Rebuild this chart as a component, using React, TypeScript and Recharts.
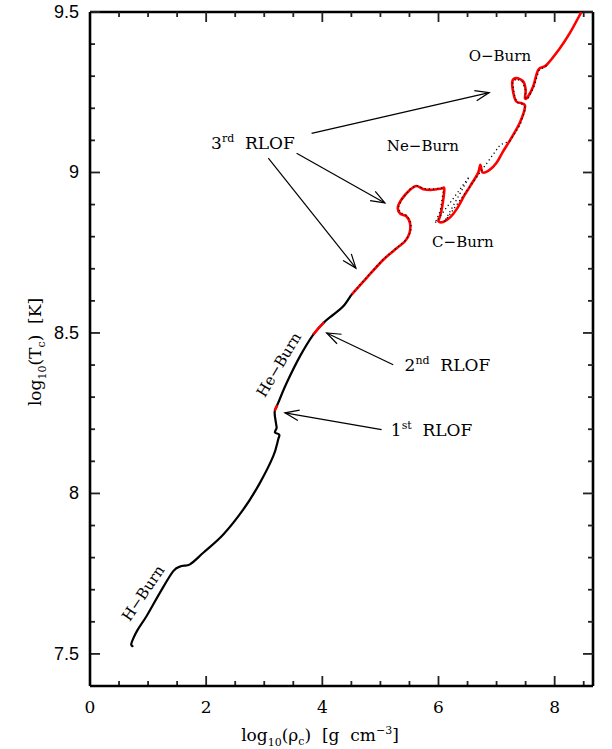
import React from 'react';
import { ComposedChart, Line, XAxis, YAxis, ReferenceLine, ReferenceDot } from 'recharts';

type Pt = { x: number; y: number };
const pts = (a: number[][]): Pt[] => a.map(([x, y]) => ({ x, y }));

// axis ticks
const xTicks = [0, 0.5, 1, 1.5, 2, 2.5, 3, 3.5, 4, 4.5, 5, 5.5, 6, 6.5, 7, 7.5, 8, 8.5];
const xTickLabels = [0, 2, 4, 6, 8];
const yTicks = [7.5, 7.6, 7.7, 7.8, 7.9, 8, 8.1, 8.2, 8.3, 8.4, 8.5, 8.6, 8.7, 8.8, 8.9, 9, 9.1, 9.2, 9.3, 9.4, 9.5];
const yTickLabels = [7.5, 8, 8.5, 9, 9.5];
const X_MAX = 8.66;
const Y_MIN = 7.4;
const Y_MAX = 9.5;

// black track: H-burn -> He-burn -> start of 3rd RLOF
const earlyTrack = pts([
  [0.74, 7.522], [0.71, 7.53], [0.75, 7.55], [0.82, 7.575], [0.975, 7.618], [1.205, 7.691],
  [1.434, 7.758], [1.578, 7.774], [1.721, 7.779], [1.95, 7.815], [2.295, 7.872], [2.64, 7.95],
  [2.926, 8.033], [3.155, 8.116], [3.24, 8.168], [3.258, 8.183], [3.184, 8.19], [3.213, 8.204],
  [3.201, 8.22], [3.18, 8.255], [3.24, 8.282], [3.385, 8.344], [3.614, 8.427], [3.844, 8.495],
  [4.03, 8.533], [4.19, 8.557], [4.36, 8.583], [4.5, 8.619],
]);

// red mass-transfer phases
const rlof1 = pts([[3.18, 8.258], [3.2, 8.266], [3.224, 8.274]]);
const rlof2 = pts([[3.844, 8.495], [3.94, 8.516], [4.03, 8.533]]);
const rlof3 = pts([
  [4.5, 8.619], [4.76, 8.671], [5.05, 8.728], [5.28, 8.764], [5.42, 8.785], [5.5, 8.81],
  [5.51, 8.842], [5.45, 8.863], [5.34, 8.872], [5.3, 8.89], [5.36, 8.915], [5.51, 8.946],
  [5.62, 8.958], [5.74, 8.948], [5.9, 8.946], [6.05, 8.95], [6.1, 8.948], [6.06, 8.89],
  [6.02, 8.86], [6.0, 8.848], [6.08, 8.846], [6.2, 8.86], [6.31, 8.885], [6.45, 8.93],
  [6.54, 8.956], [6.68, 8.998], [6.72, 9.024], [6.76, 9.0], [6.88, 9.008], [7.0, 9.03],
  [7.11, 9.065], [7.23, 9.1], [7.4, 9.155], [7.49, 9.205], [7.43, 9.216], [7.34, 9.221],
  [7.29, 9.247], [7.27, 9.283], [7.34, 9.294], [7.46, 9.283], [7.5, 9.257], [7.49, 9.231],
  [7.54, 9.236], [7.63, 9.268], [7.72, 9.32], [7.86, 9.335], [8.09, 9.387], [8.26, 9.434],
  [8.46, 9.5],
]);

// dotted black comparison track
const shadowTrack = pts([
  [4.5, 8.619], [4.76, 8.673], [5.05, 8.73], [5.3, 8.768], [5.44, 8.79], [5.52, 8.815],
  [5.53, 8.842], [5.46, 8.866], [5.34, 8.875], [5.31, 8.892], [5.37, 8.917], [5.51, 8.948],
  [5.62, 8.96], [5.74, 8.95], [5.9, 8.948], [6.05, 8.952], [6.08, 8.94], [6.03, 8.88],
  [5.94, 8.842], [6.53, 8.987], [6.1, 8.846], [7.06, 9.086], [7.23, 9.098], [7.41, 9.15],
  [7.5, 9.2], [7.44, 9.213], [7.35, 9.218], [7.3, 9.245], [7.28, 9.282], [7.34, 9.292],
  [7.45, 9.282], [7.5, 9.255], [7.5, 9.229], [7.55, 9.233], [7.64, 9.266], [7.73, 9.318],
  [7.86, 9.333],
]);

// annotations (data coordinates)
const arrows = [
  { from: [3.815, 9.122], to: [6.873, 9.249] },
  { from: [3.557, 9.06], to: [5.077, 8.905] },
  { from: [3.07, 9.045], to: [4.578, 8.702] },
  { from: [5.22, 8.401], to: [4.074, 8.5] },
  { from: [5.02, 8.199], to: [3.356, 8.251] },
];
const rlofLabels = [
  { num: '3', sup: 'rd', x: 2.806, y: 9.092 },
  { num: '2', sup: 'nd', x: 6.153, y: 8.401 },
  { num: '1', sup: 'st', x: 5.881, y: 8.199 },
];
const burnLabels = [
  { text: 'O\u2212Burn', x: 7.057, y: 9.363, angle: 0 },
  { text: 'Ne\u2212Burn', x: 5.731, y: 9.081, angle: 0 },
  { text: 'C\u2212Burn', x: 6.42, y: 8.783, angle: 0 },
  { text: 'He\u2212Burn', x: 3.253, y: 8.401, angle: -59 },
  { text: 'H\u2212Burn', x: 0.917, y: 7.689, angle: -56 },
];

const SERIF = '"DejaVu Serif", "Liberation Serif", serif';
const SANS = '"Liberation Sans", Arial, sans-serif';

const isMajorX = (v: number) => Math.abs(v / 2 - Math.round(v / 2)) < 1e-6;
const isMajorY = (v: number) => Math.abs(v * 2 - Math.round(v * 2)) < 1e-6;

// Catmull-Rom curve factory (d3 curve interface) for smooth tracks through the points
const smooth = (ctx: any) => {
  let p: number[][] = [];
  return {
    areaStart() {},
    areaEnd() {},
    lineStart() {
      p = [];
    },
    point(x: number, y: number) {
      p.push([+x, +y]);
    },
    lineEnd() {
      const n = p.length;
      if (!n) return;
      ctx.moveTo(p[0][0], p[0][1]);
      for (let i = 0; i < n - 1; i++) {
        const a = p[Math.max(i - 1, 0)];
        const b = p[i];
        const c = p[i + 1];
        const d = p[Math.min(i + 2, n - 1)];
        ctx.bezierCurveTo(
          b[0] + (c[0] - a[0]) / 6,
          b[1] + (c[1] - a[1]) / 6,
          c[0] - (d[0] - b[0]) / 6,
          c[1] - (d[1] - b[1]) / 6,
          c[0],
          c[1],
        );
      }
    },
  };
};

function XTickLabel(props: any) {
  const { x, y, payload } = props;
  const v = payload.value;
  if (!xTickLabels.includes(v)) return <g />;
  return (
    <text x={x} y={y + 27} textAnchor="middle" fontSize={17} fontFamily={SERIF} fill="#000">
      {v}
    </text>
  );
}

function YTickLabel(props: any) {
  const { x, y, payload } = props;
  const v = payload.value;
  if (!yTickLabels.includes(v)) return <g />;
  return (
    <text x={x - 11} y={y} textAnchor="end" dominantBaseline="central" fontSize={18} fontFamily={SANS} fill="#000">
      {v}
    </text>
  );
}

// inward ticks at both ends of a full-height / full-width segment
function tickPair(p: any, len: number) {
  const { x1, y1, x2, y2 } = p;
  const vertical = Math.abs(x1 - x2) < 0.5;
  if (vertical) {
    const top = Math.min(y1, y2);
    const bot = Math.max(y1, y2);
    return (
      <g stroke="#222" strokeWidth={1.8} fill="none">
        <line x1={x1} y1={top} x2={x1} y2={top + len} />
        <line x1={x1} y1={bot} x2={x1} y2={bot - len} />
      </g>
    );
  }
  const left = Math.min(x1, x2);
  const right = Math.max(x1, x2);
  return (
    <g stroke="#222" strokeWidth={1.8} fill="none">
      <line x1={left} y1={y1} x2={left + len} y2={y1} />
      <line x1={right} y1={y1} x2={right - len} y2={y1} />
    </g>
  );
}

function Arrow(props: any) {
  const { x1, y1, x2, y2 } = props;
  const ang = Math.atan2(y2 - y1, x2 - x1);
  const L = 15;
  const spread = 0.36;
  const ax = x2 - L * Math.cos(ang - spread);
  const ay = y2 - L * Math.sin(ang - spread);
  const bx = x2 - L * Math.cos(ang + spread);
  const by = y2 - L * Math.sin(ang + spread);
  return (
    <g stroke="#000" strokeWidth={1.2} fill="none">
      <line x1={x1} y1={y1} x2={x2} y2={y2} />
      <polyline points={`${ax},${ay} ${x2},${y2} ${bx},${by}`} />
    </g>
  );
}

const axisLine = { stroke: '#000', strokeWidth: 2.6 };

export default function App() {
  return (
    <div style={{ position: 'absolute', left: 0, top: 0, width: 612, height: 749, background: '#fff' }}>
      <ComposedChart width={612} height={749} margin={{ top: 12, right: 19, left: 0, bottom: 0 }}>
        <XAxis
          type="number"
          dataKey="x"
          domain={[0, X_MAX]}
          ticks={xTicks}
          height={63}
          axisLine={axisLine}
          tickLine={false}
          tickSize={0}
          tickMargin={0}
          tick={<XTickLabel />}
          interval={0}
          allowDataOverflow
        />
        <YAxis
          type="number"
          dataKey="y"
          domain={[Y_MIN, Y_MAX]}
          ticks={yTicks}
          width={90}
          axisLine={axisLine}
          tickLine={false}
          tickSize={0}
          tickMargin={0}
          tick={<YTickLabel />}
          interval={0}
          allowDataOverflow
        />

        <ReferenceLine y={Y_MAX} stroke="#000" strokeWidth={2.6} />
        <ReferenceLine x={X_MAX} stroke="#000" strokeWidth={2.6} />

        {xTicks.map((v) => (
          <ReferenceLine
            key={`xt-${v}`}
            segment={[{ x: v, y: Y_MIN }, { x: v, y: Y_MAX }]}
            shape={(p: any) => tickPair(p, isMajorX(v) ? 10 : 5)}
          />
        ))}
        {yTicks.map((v) => (
          <ReferenceLine
            key={`yt-${v}`}
            segment={[{ x: 0, y: v }, { x: X_MAX, y: v }]}
            shape={(p: any) => tickPair(p, isMajorY(v) ? 10 : 5)}
          />
        ))}

        <Line data={earlyTrack} dataKey="y" type={smooth as any} stroke="#000" strokeWidth={2.2} dot={false} activeDot={false} isAnimationActive={false} />
        <Line data={rlof1} dataKey="y" type="linear" stroke="#ff0000" strokeWidth={2.6} dot={false} activeDot={false} isAnimationActive={false} />
        <Line data={rlof2} dataKey="y" type={smooth as any} stroke="#ff0000" strokeWidth={2.6} dot={false} activeDot={false} isAnimationActive={false} />
        <Line data={rlof3} dataKey="y" type={smooth as any} stroke="#ff0000" strokeWidth={2.6} dot={false} activeDot={false} isAnimationActive={false} />
        <Line data={shadowTrack} dataKey="y" type="linear" stroke="#000" strokeWidth={1.3} strokeDasharray="1.2 3" dot={false} activeDot={false} isAnimationActive={false} />

        {arrows.map((a, i) => (
          <ReferenceLine
            key={`arrow-${i}`}
            segment={[{ x: a.from[0], y: a.from[1] }, { x: a.to[0], y: a.to[1] }]}
            shape={(p: any) => <Arrow {...p} />}
          />
        ))}

        {rlofLabels.map((l, i) => (
          <ReferenceDot
            key={`rlof-${i}`}
            x={l.x}
            y={l.y}
            r={0}
            shape={(p: any) => (
              <text x={p.cx} y={p.cy + 6} textAnchor="middle" fontSize={17} fontFamily={SERIF} fill="#000">
                <tspan>{l.num}</tspan>
                <tspan fontSize={11} dy={-7}>{l.sup}</tspan>
                <tspan dy={7}>{'\u00a0\u00a0RLOF'}</tspan>
              </text>
            )}
          />
        ))}

        {burnLabels.map((l, i) => (
          <ReferenceDot
            key={`burn-${i}`}
            x={l.x}
            y={l.y}
            r={0}
            shape={(p: any) => (
              <text
                x={p.cx}
                y={p.cy}
                textAnchor="middle"
                dominantBaseline="central"
                fontSize={15}
                fontFamily={SERIF}
                fill="#000"
                transform={`rotate(${l.angle} ${p.cx} ${p.cy})`}
              >
                {l.text}
              </text>
            )}
          />
        ))}
      </ComposedChart>

      <svg width={612} height={749} style={{ position: 'absolute', left: 0, top: 0, pointerEvents: 'none' }}>
        <text x={320} y={741} textAnchor="middle" fontSize={17} fontFamily={SERIF} fill="#000">
          log<tspan fontSize={11} dy={5}>10</tspan>
          <tspan dy={-5}>({'\u03c1'}</tspan>
          <tspan fontSize={11} dy={4}>c</tspan>
          <tspan dy={-4}>){'\u00a0\u00a0'}[g{'\u00a0\u00a0'}cm</tspan>
          <tspan fontSize={11} dy={-7}>{'\u22123'}</tspan>
          <tspan dy={7}>]</tspan>
        </text>
        <text x={41} y={352} textAnchor="middle" fontSize={17} fontFamily={SERIF} fill="#000" transform="rotate(-90 41 352)">
          log<tspan fontSize={11} dy={5}>10</tspan>
          <tspan dy={-5}>(T</tspan>
          <tspan fontSize={11} dy={4}>c</tspan>
          <tspan dy={-4}>){'\u00a0\u00a0'}[K]</tspan>
        </text>
      </svg>
    </div>
  );
}
